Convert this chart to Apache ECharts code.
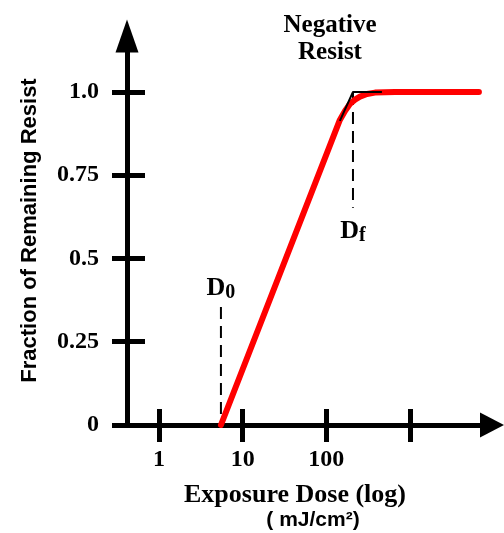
<!DOCTYPE html>
<html>
<head>
<meta charset="utf-8">
<script src="https://cdn.jsdelivr.net/npm/echarts@6/dist/echarts.min.js"></script>
<style>html,body{margin:0;padding:0;background:#fff}#chart{width:504px;height:533px}</style>
</head>
<body>
<div id="chart"></div>
<script>
// axis ticks
var xTicks = [1, 10, 100, 1000];
var xLabels = [1, 10, 100];
var yTicks = [0, 0.25, 0.5, 0.75, 1];

// contrast curve (dose in mJ/cm2, fraction remaining)
var redDose = [5.5, 145, 167, 191, 220, 252, 306, 381, 501, 660, 6650];
var redFrac = [0, 0.916, 0.943, 0.964, 0.977, 0.986, 0.994, 0.998, 0.999, 1, 1];
// straight-line extrapolation to Df
var blackDose = [145, 208, 461];
var blackFrac = [0.913, 1, 1];

var D0 = 5.5;
var Df = 208;
var d0Span = [0.354, 0];
var dfSpan = [0.997, 0.652];

var serif = '"Liberation Serif", "DejaVu Serif", serif';
var sans = '"Liberation Sans", Arial, sans-serif';

function pairs(xs, ys) {
    return xs.map(function (x, i) { return [x, ys[i]]; });
}

var dLabel = function (sub, pos, dist) {
    return {
        show: true,
        position: pos,
        distance: dist,
        formatter: '{d|D}{s|' + sub + '}',
        rich: {
            d: { fontFamily: serif, fontWeight: 'bold', fontSize: 26, lineHeight: 30, verticalAlign: 'middle', color: '#000' },
            s: { fontFamily: serif, fontWeight: 'bold', fontSize: 20, lineHeight: 14, verticalAlign: 'bottom', color: '#000' }
        }
    };
};

var chart = echarts.init(document.getElementById('chart'));
var xMin = 0.415, xMax = 9530, yMax = 1.168;

var option = {
    backgroundColor: '#fff',
    animation: false,
    grid: { left: 127, right: 12, top: 36, bottom: 108 },
    xAxis: [{
        type: 'log',
        min: xMin,
        max: xMax,
        axisLine: {
            symbol: ['none', 'triangle'],
            symbolSize: [25, 24],
            lineStyle: { color: '#000', width: 5 }
        },
        axisTick: { customValues: xTicks, length: 17, lineStyle: { color: '#000', width: 5 } },
        axisLabel: {
            customValues: xLabels,
            margin: 23,
            color: '#000',
            fontFamily: serif,
            fontWeight: 'bold',
            fontSize: 24
        },
        splitLine: { show: false },
        minorTick: { show: false }
    }, {
        type: 'log',
        position: 'bottom',
        min: xMin,
        max: xMax,
        axisLine: { show: false },
        axisTick: { customValues: xTicks, inside: true, length: 16, lineStyle: { color: '#000', width: 5 } },
        axisLabel: { show: false },
        splitLine: { show: false }
    }],
    yAxis: [{
        type: 'value',
        min: 0,
        max: yMax,
        name: 'Fraction of Remaining Resist',
        nameLocation: 'middle',
        nameGap: 86,
        nameTextStyle: { fontFamily: sans, fontWeight: 'bold', fontSize: 22, color: '#000' },
        axisLine: {
            onZero: false,
            symbol: ['none', 'triangle'],
            symbolSize: [23, 33],
            lineStyle: { color: '#000', width: 5 }
        },
        axisTick: { customValues: yTicks, length: 15, lineStyle: { color: '#000', width: 5 } },
        axisLabel: {
            customValues: yTicks,
            margin: 28,
            color: '#000',
            fontFamily: serif,
            fontWeight: 'bold',
            fontSize: 24,
            formatter: function (v) { return v === 1 ? '1.0' : String(v); }
        },
        splitLine: { show: false }
    }, {
        type: 'value',
        position: 'left',
        min: 0,
        max: yMax,
        axisLine: { show: false },
        axisTick: { customValues: yTicks, inside: true, length: 18, lineStyle: { color: '#000', width: 5 } },
        axisLabel: { show: false },
        splitLine: { show: false }
    }],
    graphic: [{
        type: 'text',
        x: 330,
        y: 12,
        style: {
            text: 'Negative\nResist',
            textAlign: 'center',
            font: 'bold 25px ' + serif,
            lineHeight: 27,
            fill: '#000'
        }
    }, {
        type: 'text',
        x: 295,
        y: 482,
        style: {
            text: 'Exposure Dose (log)',
            textAlign: 'center',
            font: 'bold 26px ' + serif,
            fill: '#000'
        }
    }, {
        type: 'text',
        x: 313,
        y: 510,
        style: {
            text: '( mJ/cm\u00b2)',
            textAlign: 'center',
            font: 'bold 21px ' + sans,
            fill: '#000'
        }
    }],
    series: [{
        type: 'line',
        data: [{ value: [D0, d0Span[0]], label: dLabel('0', 'top', 4) }, [D0, d0Span[1]]],
        symbol: 'circle',
        symbolSize: 0,
        lineStyle: { color: '#000', width: 2, type: [12, 7] },
        z: 1
    }, {
        type: 'line',
        data: [[Df, dfSpan[0]], { value: [Df, dfSpan[1]], label: dLabel('f', 'bottom', 8) }],
        symbol: 'circle',
        symbolSize: 0,
        lineStyle: { color: '#000', width: 2, type: [12, 7] },
        z: 1
    }, {
        type: 'line',
        data: pairs(redDose, redFrac),
        symbol: 'none',
        lineStyle: { color: '#ff0000', width: 6, cap: 'round', join: 'round' },
        z: 2
    }, {
        type: 'line',
        data: pairs(blackDose, blackFrac),
        symbol: 'none',
        lineStyle: { color: '#000', width: 2 },
        z: 3
    }]
};
chart.setOption(option);
</script>
</body>
</html>
